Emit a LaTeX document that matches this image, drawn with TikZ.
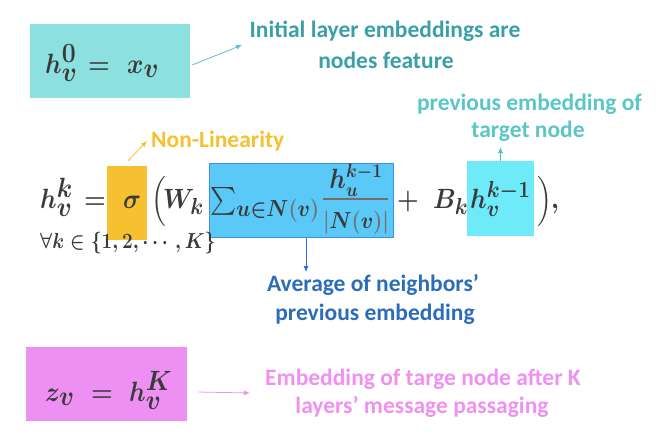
\documentclass[tikz,border=0pt]{standalone}
\usepackage{amsmath}
\usepackage{graphicx}
\usepackage{fontspec}
\usetikzlibrary{arrows.meta}
\newfontfamily\labfont{Carlito}
\definecolor{topfill}{HTML}{8DE0E0}
\definecolor{tealtext}{HTML}{3A9FA6}
\definecolor{tealarrow}{HTML}{5CC5CC}
\definecolor{prevtext}{HTML}{5AC6C8}
\definecolor{cyanfill}{HTML}{6EEAF8}
\definecolor{cyanarrow}{HTML}{4EBFC2}
\definecolor{orangec}{HTML}{F6C031}
\definecolor{bluefill}{HTML}{5BC9F8}
\definecolor{blueborder}{HTML}{3D8FE3}
\definecolor{bluearrow}{HTML}{2D6CE0}
\definecolor{bluetext}{HTML}{2B6DB9}
\definecolor{pinkfill}{HTML}{EE8FF3}
\definecolor{pinktext}{HTML}{F091F1}
\definecolor{mathgray}{HTML}{3A3A3A}
\definecolor{barcol}{HTML}{7C6A6A}
\definecolor{pgray}{HTML}{707070}
\newcommand{\gp}[1]{\textcolor{pgray}{#1}}
\newcommand{\tm}[1]{\scalebox{1}[1.12]{$#1$}}
\begin{document}
\begin{tikzpicture}[x=1pt,y=-1pt,
  colbox/.style={inner sep=0pt, draw=none},
  mth/.style={anchor=base west, inner sep=0pt, text=mathgray, font=\fontsize{33}{38}\selectfont\boldmath},
  mthm/.style={mth, font=\fontsize{31.5}{36}\selectfont\boldmath},
  mths/.style={anchor=base, inner sep=0pt, text=mathgray, font=\fontsize{24}{28}\selectfont\boldmath},
  lbl/.style={anchor=base, inner sep=0pt, font=\fontsize{23.5}{28}\selectfont\labfont\bfseries},
  arr/.style={-{Latex[length=6pt,width=5pt]}, line width=0.8pt}]
\useasboundingbox (0,0) rectangle (661,434);
% coloured boxes
\node[colbox, fill=topfill, minimum width=160pt, minimum height=74pt] (topbox) at (110,61) {};
\node[colbox, fill=orangec, minimum width=40pt, minimum height=74pt] (obox) at (127,203) {};
\node[colbox, fill=bluefill, draw=blueborder, line width=1pt, minimum width=184pt, minimum height=74pt] (bbox) at (301,200) {};
\node[colbox, fill=cyanfill, minimum width=67pt, minimum height=75pt] (cbox) at (500.5,198.5) {};
\node[colbox, fill=pinkfill, minimum width=161pt, minimum height=74pt] (pbox) at (106.5,384) {};
% top formula
\node[mth] (h0) at (45,73) {\tm{h_v^0}};
\node[mth] (eq0) at (88,73) {\tm{=}};
\node[mth] (xv) at (127,73) {\tm{x_v}};
% main formula
\node[mth] (hk) at (40,208) {\tm{h_v^k}};
\node[mth] (eq) at (84,208) {\tm{=}};
\node[mth] (sig) at (123,208) {\tm{\sigma}};
\node[mth] (lp) at (151,208) {\tm{\Big(}};
\node[mthm] (wk) at (163,208) {\tm{W_k}};
\node[mth, font=\fontsize{30}{36}\selectfont\boldmath] (sum) at (210,208) {\tm{\textstyle\sum_{u\in N\gp{(}v\gp{)}}}};
\node[mths] (num) at (356,188) {\tm{h_u^{k-1}}};
\draw[barcol, line width=2.5pt] (323,199) -- (388,199);
\node[mths, font=\fontsize{22}{26}\selectfont\boldmath] (den) at (356,228) {\tm{\gp{|}N\gp{(}v\gp{)}\gp{|}}};
\node[mth] (plus) at (397,208) {\tm{+}};
\node[mthm] (bk) at (433,208) {\tm{B_k}};
\node[mthm] (hk1) at (470,208) {\tm{h_v^{k-1}}};
\node[mth] (rp) at (537,208) {\tm{\Big)}};
\node[mth] (comma) at (551,208) {\tm{,}};
\node[mth, font=\fontsize{19.5}{23}\selectfont\boldmath] (fa) at (40,248) {\scalebox{0.915}[1.05]{$\forall k\in\{1,2,\cdots,K\}$}};
% bottom formula
\node[mth] (zv) at (45,401) {\tm{z_v}};
\node[mth] (eqz) at (91,401) {\tm{=}};
\node[mth] (hK) at (129,401) {\tm{h_v^K}};
% labels
\node[lbl, text=tealtext] (l1a) at (385,37) {Initial layer embeddings are};
\node[lbl, text=tealtext] (l1b) at (386,68) {nodes feature};
\node[lbl, text=prevtext] (l2a) at (529.5,110) {previous embedding of};
\node[lbl, text=prevtext] (l2b) at (528,137) {target node};
\node[lbl, anchor=base west, text=orangec] (l3) at (151,147) {Non-Linearity};
\node[lbl, text=bluetext] (l4a) at (373,291) {Average of neighbors’};
\node[lbl, text=bluetext] (l4b) at (375,320) {previous embedding};
\node[lbl, text=pinktext] (l5a) at (423,385) {Embedding of targe node after K};
\node[lbl, text=pinktext] (l5b) at (422,413) {layers’ message passaging};
% arrow ends
\coordinate (e1) at (242,45);
\coordinate (e2) at (500.5,147);
\coordinate (e3) at (147,141);
\coordinate (e4) at (306,272);
\coordinate (e5) at (250,393);
\draw[arr, tealarrow] ([shift={(2,4)}]topbox.east) -- (e1);
\draw[arr, cyanarrow] (cbox.north) -- (e2);
\draw[arr, orangec] ([shift={(1,-5)}]obox.north) -- (e3);
\draw[arr, bluearrow] ([xshift=5pt]bbox.south) -- (e4);
\draw[arr, pinktext] ([shift={(11,8)}]pbox.east) -- (e5);
\end{tikzpicture}
\end{document}
